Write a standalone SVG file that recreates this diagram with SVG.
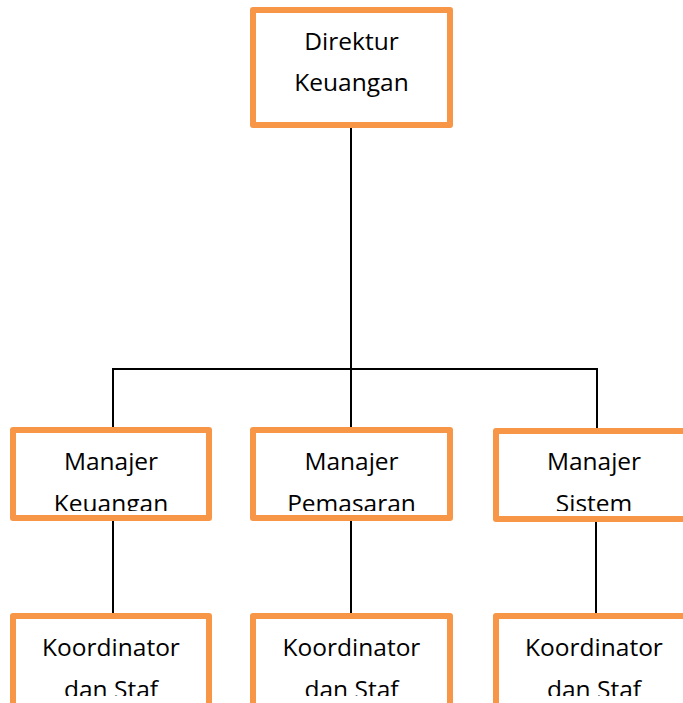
<svg xmlns="http://www.w3.org/2000/svg" width="683" height="703" viewBox="0 0 683 703">
<style>
.box{fill:#fff;stroke:#F79646;stroke-width:6;stroke-linejoin:round}
.t{font-family:"Open Sans","Liberation Sans",sans-serif;font-size:24.5px;fill:#000;text-anchor:middle}
.c{stroke:#000;stroke-width:2;fill:none}
</style>
<defs>
<clipPath id="cm"><rect x="0" y="430" width="683" height="81"/></clipPath>
<clipPath id="cb"><rect x="0" y="616" width="683" height="80"/></clipPath>
</defs>
<g id="connectors">
<line class="c" x1="351" y1="128" x2="351" y2="369"/>
<line class="c" x1="113" y1="369" x2="597" y2="369"/>
<line class="c" x1="113" y1="368" x2="113" y2="427"/>
<line class="c" x1="351" y1="369" x2="351" y2="427"/>
<line class="c" x1="597" y1="368" x2="597" y2="428"/>
<line class="c" x1="113" y1="521" x2="113" y2="613"/>
<line class="c" x1="351" y1="521" x2="351" y2="613"/>
<line class="c" x1="596" y1="522" x2="596" y2="613"/>
</g>
<g id="direktur">
<rect class="box" x="253" y="10" width="197" height="115"/>
<text class="t" x="351.5" y="50">Direktur</text>
<text class="t" x="351.5" y="91">Keuangan</text>
</g>
<g id="manajer-keuangan">
<rect class="box" x="13" y="430" width="196" height="88"/>
<g clip-path="url(#cm)">
<text class="t" x="111" y="470">Manajer</text>
<text class="t" x="111" y="512">Keuangan</text>
</g>
</g>
<g id="manajer-pemasaran">
<rect class="box" x="253" y="430" width="197" height="88"/>
<g clip-path="url(#cm)">
<text class="t" x="351.5" y="470">Manajer</text>
<text class="t" x="351.5" y="512">Pemasaran</text>
</g>
</g>
<g id="manajer-sistem">
<rect class="box" x="496" y="431" width="196" height="88"/>
<g clip-path="url(#cm)">
<text class="t" x="594" y="470">Manajer</text>
<text class="t" x="594" y="512">Sistem</text>
</g>
</g>
<g id="koordinator-1">
<rect class="box" x="13" y="616" width="196" height="100"/>
<g clip-path="url(#cb)">
<text class="t" x="111" y="656">Koordinator</text>
<text class="t" x="111" y="698">dan Staf</text>
</g>
</g>
<g id="koordinator-2">
<rect class="box" x="253" y="616" width="197" height="100"/>
<g clip-path="url(#cb)">
<text class="t" x="351.5" y="656">Koordinator</text>
<text class="t" x="351.5" y="698">dan Staf</text>
</g>
</g>
<g id="koordinator-3">
<rect class="box" x="496" y="616" width="196" height="100"/>
<g clip-path="url(#cb)">
<text class="t" x="594" y="656">Koordinator</text>
<text class="t" x="594" y="698">dan Staf</text>
</g>
</g>
</svg>
